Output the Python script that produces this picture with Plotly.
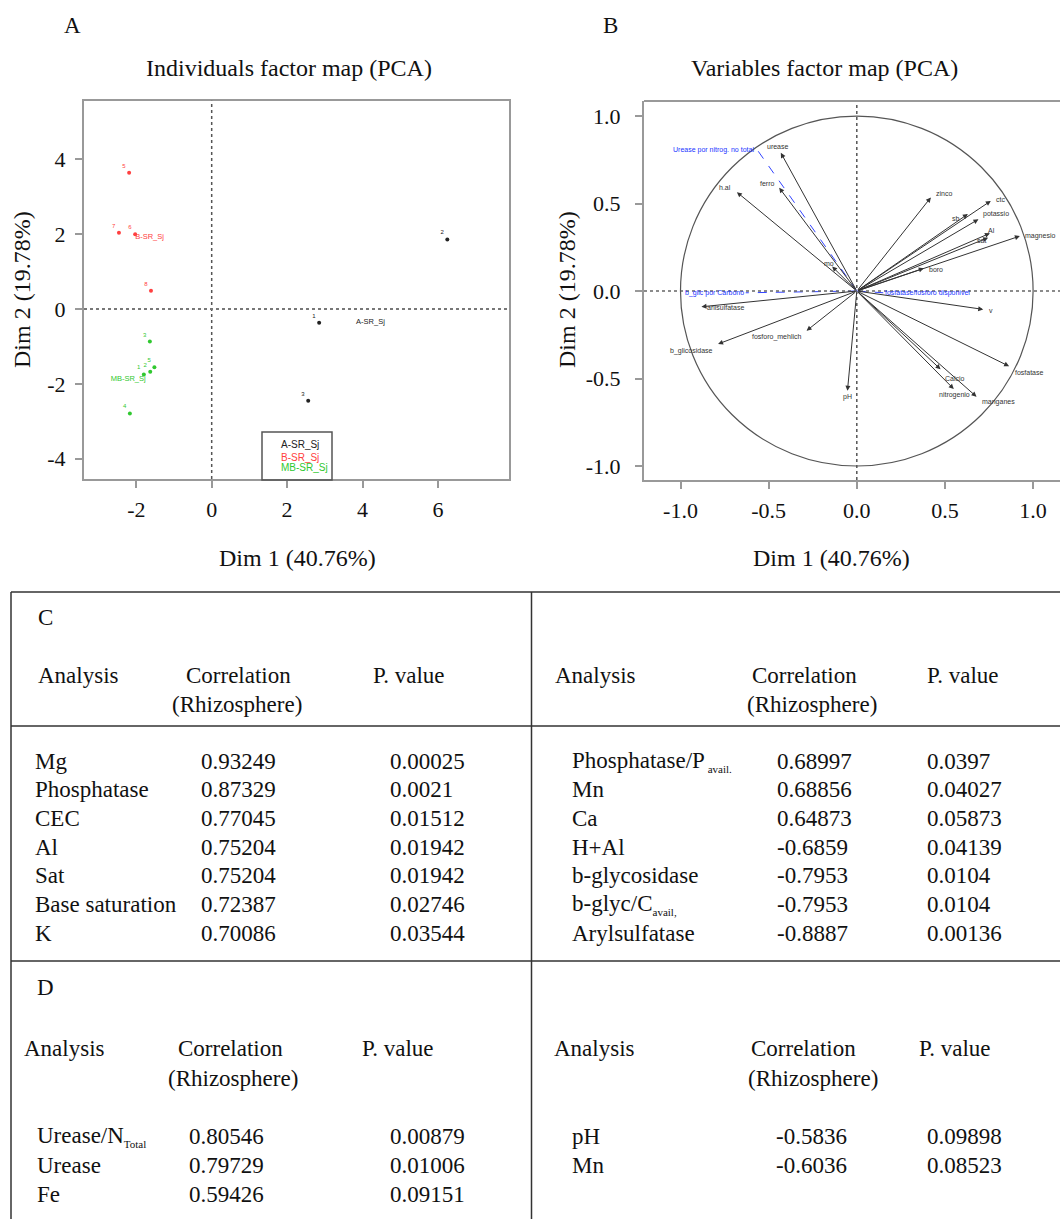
import plotly.graph_objects as go

W, H = 1060, 1219
SERIF = "Liberation Serif, Times New Roman, serif"
SANS = "Liberation Sans, Arial, sans-serif"

# ---------------- Panel A: individuals ----------------
ind_groups = ["A-SR_Sj", "B-SR_Sj", "MB-SR_Sj"]
ind_colors = ["#222222", "#ff4040", "#30c830"]
ind_x = [[2.85, 2.56, 6.25],
         [-2.19, -2.46, -2.03, -1.61],
         [-1.64, -1.80, -1.63, -1.52, -2.17]]
ind_y = [[-0.37, -2.45, 1.86],
         [3.64, 2.04, 2.00, 0.49],
         [-0.87, -1.75, -1.68, -1.56, -2.79]]
ind_lab = [["1", "3", "2"],
           ["5", "7", "6", "8"],
           ["3", "1", "2", "5", "4"]]
cent_x = [3.83, -2.03, -2.68]
cent_y = [-0.34, 1.91, -1.87]
a_xticks = [-2, 0, 2, 4, 6]
a_xticktext = ["-2", "0", "2", "4", "6"]
a_yticks = [-4, -2, 0, 2, 4]
a_yticktext = ["-4", "-2", "0", "2", "4"]

# ---------------- Panel B: variables ----------------
var_names = ["urease", "ferro", "h.al", "mo", "zinco", "ctc", "sb", "potassio", "Al",
             "sat", "magnesio", "boro", "v", "fosfatase", "Calcio", "nitrogenio",
             "manganes", "arilsulfatase", "b_glicosidase", "fosforo_mehlich", "pH"]
var_x = [-0.431, -0.44, -0.68, -0.14, 0.42, 0.76, 0.63, 0.69, 0.755,
         0.745, 0.925, 0.38, 0.717, 0.864, 0.475, 0.55,
         0.679, -0.881, -0.787, -0.285, -0.053]
var_y = [0.79, 0.59, 0.565, 0.14, 0.535, 0.515, 0.44, 0.41, 0.33,
         0.305, 0.314, 0.13, -0.105, -0.43, -0.447, -0.56,
         -0.604, -0.09, -0.303, -0.227, -0.57]
var_lx = [-0.446, -0.508, -0.745, -0.158, 0.44, 0.78, 0.565, 0.705, 0.764,
          0.707, 0.944, 0.40, 0.74, 0.887, 0.49, 0.556,
          0.70, -0.862, -0.805, -0.451, -0.053]
var_ly = [0.825, 0.615, 0.593, 0.158, 0.56, 0.524, 0.415, 0.44, 0.345,
          0.287, 0.314, 0.124, -0.112, -0.467, -0.50, -0.594,
          -0.632, -0.093, -0.341, -0.265, -0.607]
var_anchor = ["center", "center", "center", "center", "left", "left", "center", "left", "center",
              "center", "left", "left", "left", "left", "left", "center",
              "left", "left", "right", "center", "center"]
sup_names = ["Urease por nitrog. no total", "b_glic por Carbono", "fosfatase/fosforo disponivel"]
sup_x = [-0.56, -0.63, 0.15]
sup_y = [0.80, -0.01, -0.01]
sup_lx = [-0.573, -0.626, 0.15]
sup_ly = [0.806, -0.01, -0.013]
sup_anchor = ["right", "right", "left"]
b_ticks = [-1.0, -0.5, 0.0, 0.5, 1.0]
b_ticktext = ["-1.0", "-0.5", "0.0", "0.5", "1.0"]

# ---------------- Tables ----------------
c_left_names = ["Mg", "Phosphatase", "CEC", "Al", "Sat", "Base saturation", "K"]
c_left_corr = ["0.93249", "0.87329", "0.77045", "0.75204", "0.75204", "0.72387", "0.70086"]
c_left_p = ["0.00025", "0.0021", "0.01512", "0.01942", "0.01942", "0.02746", "0.03544"]
c_right_names = ["Phosphatase/P<sub><span style='font-size:11px'> avail.</span></sub>", "Mn", "Ca", "H+Al",
                 "b-glycosidase", "b-glyc/C<sub><span style='font-size:11px'>avail,</span></sub>", "Arylsulfatase"]
c_right_corr = ["0.68997", "0.68856", "0.64873", "-0.6859", "-0.7953", "-0.7953", "-0.8887"]
c_right_p = ["0.0397", "0.04027", "0.05873", "0.04139", "0.0104", "0.0104", "0.00136"]
d_left_names = ["Urease/N<sub><span style='font-size:11px'>Total</span></sub>", "Urease", "Fe"]
d_left_corr = ["0.80546", "0.79729", "0.59426"]
d_left_p = ["0.00879", "0.01006", "0.09151"]
d_right_names = ["pH", "Mn"]
d_right_corr = ["-0.5836", "-0.6036"]
d_right_p = ["0.09898", "0.08523"]


def PX(px):
    return px / W


def PY(py):
    return 1 - py / H


fig = go.Figure()

# Panel A traces
for g, col, xs, ys, labs in zip(ind_groups, ind_colors, ind_x, ind_y, ind_lab):
    fig.add_trace(go.Scatter(x=xs, y=ys, mode="markers+text", text=labs,
                             textposition="top left",
                             textfont=dict(size=6, color=col, family=SANS),
                             marker=dict(size=4, color=col),
                             xaxis="x", yaxis="y", showlegend=False, cliponaxis=False))
fig.add_trace(go.Scatter(x=cent_x, y=cent_y, mode="text", text=ind_groups,
                         textposition="middle right",
                         textfont=dict(size=7.5, color=ind_colors, family=SANS),
                         xaxis="x", yaxis="y", showlegend=False))

# Panel B supplementary dashed lines
for sx, sy in zip(sup_x, sup_y):
    fig.add_trace(go.Scatter(x=[0, sx], y=[0, sy], mode="lines",
                             line=dict(color="#3344ff", width=1, dash="dash"),
                             xaxis="x2", yaxis="y2", showlegend=False))

annotations = []
# arrows for variables
for vx, vy in zip(var_x, var_y):
    annotations.append(dict(x=vx, y=vy, ax=0, ay=0, xref="x2", yref="y2", axref="x2", ayref="y2",
                            showarrow=True, arrowhead=2, arrowsize=1, arrowwidth=1,
                            arrowcolor="#333333", text=""))
for n, lx, ly, anc in zip(var_names, var_lx, var_ly, var_anchor):
    annotations.append(dict(x=lx, y=ly, xref="x2", yref="y2", text=n, showarrow=False,
                            xanchor=anc, yanchor="middle",
                            font=dict(size=7, color="#333333", family=SANS)))
for n, lx, ly, anc in zip(sup_names, sup_lx, sup_ly, sup_anchor):
    annotations.append(dict(x=lx, y=ly, xref="x2", yref="y2", text=n, showarrow=False,
                            xanchor=anc, yanchor="middle",
                            font=dict(size=7, color="#2233ff", family=SANS)))


def txt(px, py, s, size=23, anchor="left", color="#111111", family=SERIF, angle=0):
    annotations.append(dict(x=PX(px), y=PY(py), xref="paper", yref="paper", text=s,
                            showarrow=False, xanchor=anchor, yanchor="middle", textangle=angle,
                            font=dict(size=size, color=color, family=family)))


# Panel labels and titles
txt(72, 25, "A", anchor="center")
txt(610, 25, "B", anchor="center")
txt(289, 68, "Individuals factor map (PCA)", size=24, anchor="center")
txt(824, 68, "Variables factor map (PCA)", size=24, anchor="center")
txt(297, 558, "Dim 1 (40.76%)", size=24, anchor="center")
txt(831, 558, "Dim 1 (40.76%)", size=24, anchor="center")
txt(22, 290, "Dim 2 (19.78%)", size=24, anchor="center", angle=-90)
txt(567, 290, "Dim 2 (19.78%)", size=24, anchor="center", angle=-90)

# Legend text panel A
leg_y = [445, 457, 468]
for g, col, ly in zip(ind_groups, ind_colors, leg_y):
    txt(279, ly, g, size=10, color=col, family=SANS)

# Tables
c_rows = [761 + 28.67 * i for i in range(7)]
txt(36, 617, "C")
txt(36, 675, "Analysis")
txt(238, 675, "Correlation", anchor="center")
txt(237, 704, "(Rhizosphere)", anchor="center")
txt(371, 675, "P. value")
txt(553, 675, "Analysis")
txt(750, 675, "Correlation")
txt(745, 704, "(Rhizosphere)")
txt(925, 675, "P. value")
for yy, n, c, p in zip(c_rows, c_left_names, c_left_corr, c_left_p):
    txt(33, yy, n)
    txt(199, yy, c)
    txt(388, yy, p)
for yy, n, c, p in zip(c_rows, c_right_names, c_right_corr, c_right_p):
    txt(570, yy, n)
    txt(775, yy, c)
    txt(925, yy, p)

d_rows = [1136 + 29 * i for i in range(3)]
txt(35, 987, "D")
txt(22, 1048, "Analysis")
txt(176, 1048, "Correlation")
txt(166, 1078, "(Rhizosphere)")
txt(360, 1048, "P. value")
txt(552, 1048, "Analysis")
txt(749, 1048, "Correlation")
txt(746, 1078, "(Rhizosphere)")
txt(917, 1048, "P. value")
for yy, n, c, p in zip(d_rows, d_left_names, d_left_corr, d_left_p):
    txt(35, yy, n)
    txt(187, yy, c)
    txt(388, yy, p)
for yy, n, c, p in zip(d_rows, d_right_names, d_right_corr, d_right_p):
    txt(570, yy, n)
    txt(774, yy, c)
    txt(925, yy, p)

shapes = []
# Panel A reference lines
shapes.append(dict(type="line", xref="x", yref="y domain", x0=0, x1=0, y0=0, y1=1,
                   line=dict(color="#555555", width=1.5, dash="dot")))
shapes.append(dict(type="line", xref="x domain", yref="y", x0=0, x1=1, y0=0, y1=0,
                   line=dict(color="#777777", width=2, dash="dot")))
# Legend box panel A
shapes.append(dict(type="rect", xref="paper", yref="paper", x0=PX(262), x1=PX(332),
                   y0=PY(480), y1=PY(432), line=dict(color="#555555", width=1.5),
                   fillcolor="rgba(255,255,255,0)"))
# Panel B reference lines, circle, top frame
shapes.append(dict(type="line", xref="x2", yref="y2 domain", x0=0, x1=0, y0=0, y1=1,
                   line=dict(color="#555555", width=1.5, dash="dot")))
shapes.append(dict(type="line", xref="x2 domain", yref="y2", x0=0, x1=1, y0=0, y1=0,
                   line=dict(color="#666666", width=1.5, dash="dot")))
shapes.append(dict(type="circle", xref="x2", yref="y2", x0=-1, x1=1, y0=-1, y1=1,
                   line=dict(color="#555555", width=1.2)))
shapes.append(dict(type="line", xref="x2 domain", yref="y2 domain", x0=0, x1=1, y0=1, y1=1,
                   line=dict(color="#999999", width=2)))

# Table lines
tl = dict(color="#333333", width=1.5)
shapes.append(dict(type="line", xref="paper", yref="paper", x0=PX(11), x1=PX(11), y0=PY(592), y1=PY(1219), line=tl))
shapes.append(dict(type="line", xref="paper", yref="paper", x0=PX(531.5), x1=PX(531.5), y0=PY(592), y1=PY(1219), line=tl))
for ly in [592, 726, 961]:
    shapes.append(dict(type="line", xref="paper", yref="paper", x0=PX(11), x1=1, y0=PY(ly), y1=PY(ly), line=tl))

axis_common = dict(showgrid=False, zeroline=False, ticks="outside", ticklen=7, tickwidth=1.5,
                   tickcolor="#999999", showline=True, linecolor="#999999", linewidth=2,
                   tickfont=dict(family=SERIF, size=22, color="#111111"))

fig.update_layout(
    width=W, height=H, margin=dict(l=0, r=0, t=0, b=0),
    paper_bgcolor="white", plot_bgcolor="white", showlegend=False,
    xaxis=dict(domain=[PX(84), PX(509)], range=[-3.387, 7.886], anchor="y",
               tickvals=a_xticks, ticktext=a_xticktext, mirror=True, ticklabelstandoff=3,
               **axis_common),
    yaxis=dict(domain=[PY(479), PY(100.7)], range=[-4.544, 5.568], anchor="x",
               tickvals=a_yticks, ticktext=a_yticktext, mirror=True, ticklabelstandoff=5,
               **axis_common),
    xaxis2=dict(domain=[PX(644), 1.0], range=[-1.207, 1.1525], anchor="y2",
                tickvals=b_ticks, ticktext=b_ticktext, ticklabelstandoff=3, **axis_common),
    yaxis2=dict(domain=[PY(480), PY(101)], range=[-1.08, 1.086], anchor="x2",
                tickvals=b_ticks, ticktext=b_ticktext, ticklabelstandoff=10, **axis_common),
    annotations=annotations, shapes=shapes,
)

fig.write_html("out.html", config={"displayModeBar": False},
               post_script="document.body.style.margin='0';document.body.style.overflow='hidden';")
